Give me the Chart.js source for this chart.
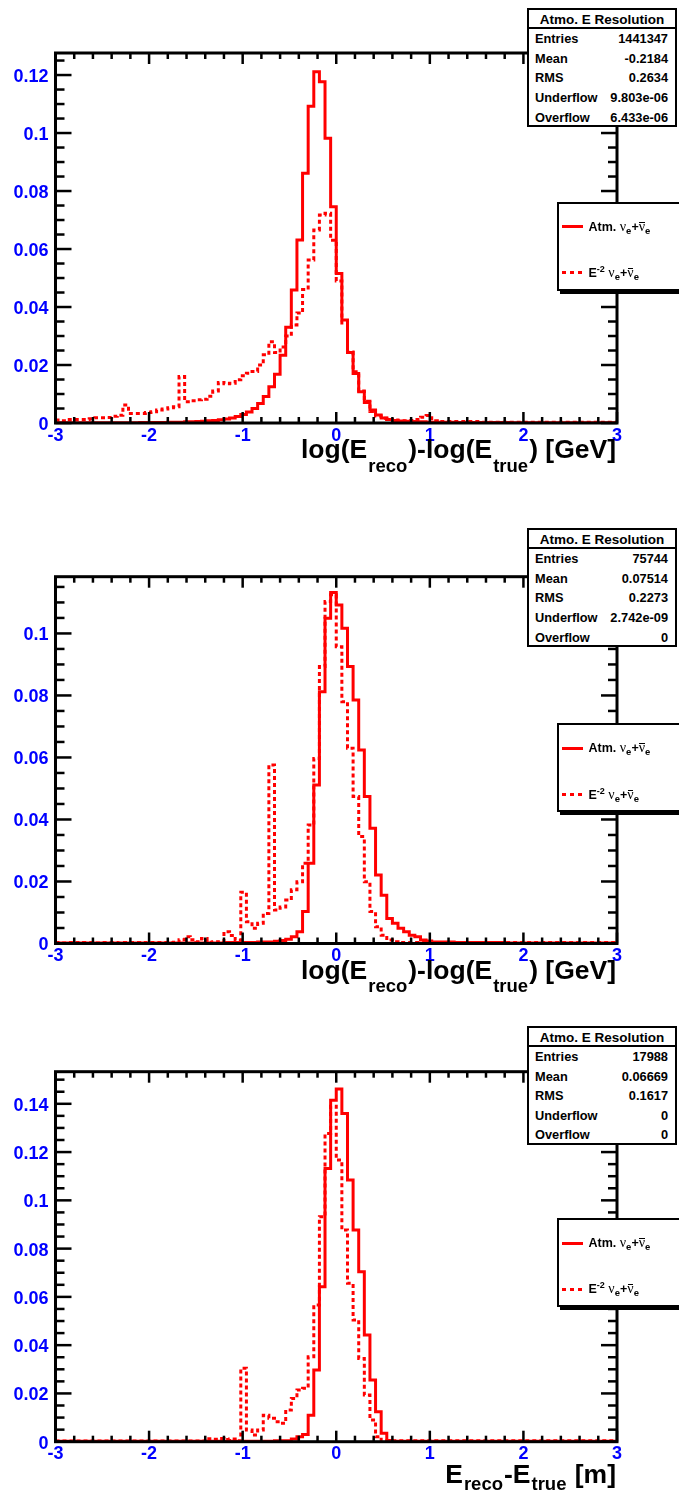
<!DOCTYPE html>
<html>
<head>
<meta charset="utf-8">
<script src="https://cdn.jsdelivr.net/npm/chart.js@4.4.1/dist/chart.umd.min.js"></script>
<style>
html,body{margin:0;padding:0;background:#fff;}
body{width:679px;height:1497px;position:relative;overflow:hidden;font-family:"Liberation Sans",Arial,Helvetica,sans-serif;}
canvas{position:absolute;left:0;z-index:1;}
.stats{position:absolute;left:527px;width:146px;height:114.5px;border:2px solid #000;background:#fff;z-index:3;color:#000;}
.st-title{position:absolute;left:0;right:0;top:1.5px;height:16px;line-height:16px;text-align:center;font-weight:bold;font-size:13.5px;white-space:nowrap;}
.st-sep{position:absolute;left:0;right:0;top:16.7px;height:2px;background:#000;}
.st-row{position:absolute;left:6px;right:7px;height:16px;line-height:16px;font-weight:bold;font-size:12.8px;display:flex;justify-content:space-between;white-space:nowrap;}
.leg{position:absolute;left:557px;width:140px;height:85px;border:2px solid #000;background:#fff;box-shadow:3px 3px 0 #000;z-index:3;}
.leg-line{position:absolute;left:3px;width:21px;height:3px;background:#ff0000;}
.leg-dot{position:absolute;left:3px;width:21px;height:3px;background:repeating-linear-gradient(to right,#ff0000 0 4.5px,transparent 4.5px 8px);}
.leg-txt{position:absolute;left:29.5px;height:18px;line-height:18px;white-space:nowrap;font-weight:bold;font-size:12.5px;color:#000;}
.nu{font-family:"Liberation Serif","DejaVu Serif",serif;font-weight:normal;font-size:14px;}
.bar{position:relative;display:inline-block;}
.bar::after{content:"";position:absolute;left:0.5px;right:0.5px;top:4px;height:1.2px;background:#000;}
.sb{font-weight:bold;font-size:9.5px;position:relative;top:3px;}
.sp{font-weight:bold;font-size:9px;position:relative;top:-5px;}
.xt{position:absolute;right:63px;height:26px;line-height:26px;white-space:nowrap;font-weight:bold;font-size:26.5px;color:#000;z-index:2;}
.xt .sub{font-size:18.5px;position:relative;margin:0 1px;}
</style>
</head>
<body>
<canvas id="c1" width="679" height="500" style="top:0px"></canvas>
<canvas id="c2" width="679" height="500" style="top:500px"></canvas>
<canvas id="c3" width="679" height="497" style="top:1000px"></canvas>
<script>
// ---------------- data ----------------
const N_BINS = 100, X_MIN = -3, X_MAX = 3;
const binEdges = Array.from({length: N_BINS + 1}, (_, i) => +(X_MIN + i * (X_MAX - X_MIN) / N_BINS).toFixed(2));

const xTickValues = [-3, -2, -1, 0, 1, 2, 3];
const xTickLabels = ["-3", "-2", "-1", "0", "1", "2", "3"];
const yTickValues1 = [0, 0.02, 0.04, 0.06, 0.08, 0.1, 0.12];
const yTickLabels1 = ["0", "0.02", "0.04", "0.06", "0.08", "0.1", "0.12"];
const yTickValues2 = [0, 0.02, 0.04, 0.06, 0.08, 0.1];
const yTickLabels2 = ["0", "0.02", "0.04", "0.06", "0.08", "0.1"];
const yTickValues3 = [0, 0.02, 0.04, 0.06, 0.08, 0.1, 0.12, 0.14];
const yTickLabels3 = ["0", "0.02", "0.04", "0.06", "0.08", "0.1", "0.12", "0.14"];

const seriesNames = ["Atm. \u03bde+\u03bd\u0304e", "E-2 \u03bde+\u03bd\u0304e"];

// Panel 1: log(Ereco)-log(Etrue)
const atmSolid1 = [
 0.0001,0.0001,0.0001,0.0001,0.0001,0.0001,0.0001,0.0001,0.0001,0.0001,
 0.0001,0.0001,0.0001,0.0001,0.0001,0.0002,0.0002,0.0002,0.0002,0.0002,
 0.0003,0.0003,0.0003,0.0004,0.0004,0.0005,0.0006,0.0008,0.0009,0.0011,
 0.0014,0.0017,0.0022,0.0029,0.0038,0.0050,0.0067,0.0091,0.0125,0.0168,
 0.0234,0.0330,0.0459,0.0631,0.0861,0.1092,0.1211,0.1177,0.0982,0.0746,
 0.0516,0.0355,0.0243,0.0171,0.0108,0.0071,0.0045,0.0028,0.0017,0.0012,
 0.0009,0.0007,0.0006,0.0005,0.0004,0.0004,0.0003,0.0003,0.0003,0.0003,
 0.0003,0.0002,0.0002,0.0002,0.0002,0.0002,0.0002,0.0002,0.0002,0.0002,
 0.0002,0.0001,0.0001,0.0001,0.0001,0.0001,0.0001,0.0001,0.0001,0.0001,
 0.0001,0.0001,0.0001,0.0001,0.0001,0.0001,0.0001,0.0001,0.0001,0.0001];
const e2Dotted1 = [
 0.0010,0.0008,0.0012,0.0012,0.0012,0.0012,0.0015,0.0018,0.0018,0.0019,
 0.0023,0.0027,0.0062,0.0033,0.0033,0.0033,0.0036,0.0039,0.0045,0.0048,
 0.0053,0.0056,0.0160,0.0073,0.0077,0.0080,0.0082,0.0092,0.0110,0.0140,
 0.0135,0.0137,0.0149,0.0163,0.0172,0.0178,0.0200,0.0235,0.0280,0.0243,
 0.0262,0.0300,0.0338,0.0379,0.0460,0.0562,0.0666,0.0717,0.0723,0.0630,
 0.0490,0.0345,0.0245,0.0177,0.0110,0.0075,0.0040,0.0024,0.0016,0.0012,
 0.0010,0.0008,0.0008,0.0009,0.0012,0.0020,0.0026,0.0008,0.0005,0.0005,
 0.0005,0.0005,0.0005,0.0005,0.0005,0.0005,0.0003,0.0003,0.0003,0.0003,
 0.0003,0.0003,0.0003,0.0003,0.0003,0.0003,0.0003,0.0003,0.0003,0.0003,
 0.0003,0.0003,0.0003,0.0003,0.0003,0.0003,0.0003,0.0003,0.0003,0.0003];

// Panel 2: log(Ereco)-log(Etrue)
const atmSolid2 = [
 0.0002,0.0002,0.0002,0.0002,0.0002,0.0002,0.0002,0.0002,0.0002,0.0002,
 0.0002,0.0002,0.0002,0.0002,0.0002,0.0002,0.0002,0.0002,0.0002,0.0002,
 0.0002,0.0002,0.0002,0.0002,0.0002,0.0002,0.0002,0.0002,0.0002,0.0002,
 0.0003,0.0003,0.0003,0.0003,0.0003,0.0003,0.0005,0.0005,0.0005,0.0007,
 0.0010,0.0014,0.0022,0.0038,0.0103,0.0259,0.0511,0.0812,0.1049,0.1132,
 0.1092,0.1017,0.0893,0.0785,0.0624,0.0474,0.0372,0.0221,0.0156,0.0081,
 0.0065,0.0049,0.0038,0.0027,0.0022,0.0011,0.0008,0.0005,0.0005,0.0005,
 0.0005,0.0003,0.0003,0.0003,0.0003,0.0003,0.0003,0.0003,0.0003,0.0003,
 0.0002,0.0002,0.0002,0.0002,0.0002,0.0002,0.0002,0.0002,0.0002,0.0002,
 0.0002,0.0002,0.0002,0.0002,0.0002,0.0002,0.0002,0.0002,0.0002,0.0002];
const e2Dotted2 = [
 0.0003,0.0002,0.0003,0.0003,0.0002,0.0003,0.0003,0.0002,0.0003,0.0003,
 0.0003,0.0002,0.0003,0.0003,0.0003,0.0002,0.0003,0.0003,0.0003,0.0003,
 0.0003,0.0004,0.0012,0.0022,0.0012,0.0006,0.0016,0.0004,0.0006,0.0005,
 0.0038,0.0026,0.0010,0.0165,0.0070,0.0049,0.0065,0.0097,0.0576,0.0108,
 0.0118,0.0140,0.0173,0.0199,0.0259,0.0382,0.0597,0.0893,0.1103,0.1125,
 0.0957,0.0780,0.0630,0.0474,0.0345,0.0199,0.0103,0.0054,0.0027,0.0011,
 0.0006,0.0003,0.0003,0.0003,0.0003,0.0003,0.0003,0.0003,0.0003,0.0003,
 0.0003,0.0003,0.0003,0.0003,0.0003,0.0003,0.0003,0.0003,0.0003,0.0003,
 0.0003,0.0003,0.0003,0.0003,0.0003,0.0003,0.0003,0.0003,0.0003,0.0003,
 0.0003,0.0003,0.0003,0.0003,0.0003,0.0003,0.0003,0.0003,0.0003,0.0003];

// Panel 3: Ereco-Etrue
const atmSolid3 = [
 0.0002,0.0002,0.0002,0.0002,0.0002,0.0002,0.0002,0.0002,0.0002,0.0002,
 0.0002,0.0002,0.0002,0.0002,0.0002,0.0002,0.0002,0.0002,0.0002,0.0002,
 0.0002,0.0002,0.0002,0.0002,0.0002,0.0002,0.0002,0.0002,0.0002,0.0002,
 0.0002,0.0002,0.0002,0.0002,0.0002,0.0002,0.0002,0.0002,0.0002,0.0004,
 0.0004,0.0004,0.0011,0.0020,0.0030,0.0110,0.0297,0.0642,0.1132,0.1415,
 0.1461,0.1360,0.1084,0.0877,0.0704,0.0442,0.0256,0.0124,0.0035,0.0005,
 0.0002,0.0002,0.0002,0.0002,0.0002,0.0002,0.0002,0.0002,0.0002,0.0002,
 0.0002,0.0002,0.0002,0.0002,0.0002,0.0002,0.0002,0.0002,0.0002,0.0002,
 0.0002,0.0002,0.0002,0.0002,0.0002,0.0002,0.0002,0.0002,0.0002,0.0002,
 0.0002,0.0002,0.0002,0.0002,0.0002,0.0002,0.0002,0.0002,0.0002,0.0002];
const e2Dotted3 = [
 0.0003,0.0003,0.0003,0.0003,0.0003,0.0003,0.0003,0.0003,0.0003,0.0003,
 0.0003,0.0003,0.0003,0.0003,0.0003,0.0003,0.0003,0.0003,0.0003,0.0003,
 0.0003,0.0003,0.0003,0.0003,0.0003,0.0003,0.0003,0.0012,0.0010,0.0013,
 0.0009,0.0011,0.0004,0.0304,0.0048,0.0028,0.0048,0.0110,0.0097,0.0083,
 0.0076,0.0131,0.0179,0.0214,0.0221,0.0352,0.0566,0.0932,0.1277,0.1390,
 0.1167,0.0877,0.0656,0.0504,0.0345,0.0193,0.0090,0.0021,0.0004,0.0004,
 0.0004,0.0004,0.0004,0.0004,0.0004,0.0004,0.0004,0.0004,0.0004,0.0004,
 0.0004,0.0004,0.0004,0.0004,0.0004,0.0004,0.0004,0.0004,0.0004,0.0004,
 0.0004,0.0004,0.0004,0.0004,0.0004,0.0004,0.0004,0.0004,0.0004,0.0004,
 0.0004,0.0004,0.0004,0.0004,0.0004,0.0004,0.0004,0.0004,0.0004,0.0004];

const statsTitle = "Atmo. E Resolution";
const statsNames = ["Entries", "Mean", "RMS", "Underflow", "Overflow"];
const statsValues1 = ["1441347", "-0.2184", "0.2634", "9.803e-06", "6.433e-06"];
const statsValues2 = ["75744", "0.07514", "0.2273", "2.742e-09", "0"];
const statsValues3 = ["17988", "0.06669", "0.1617", "0", "0"];

const xTitleLog = [["log(E", ""], ["reco", "sub"], [")-log(E", ""], ["true", "sub"], [") [GeV]", ""]];
const xTitleLin = [["E", ""], ["reco", "sub"], ["-E", ""], ["true", "sub"], [" [m]", ""]];

// ---------------- layout / style ----------------
const RED = "#ff0000", BLUE = "#0000ff";
const FRAME_LEFT = 55.5, FRAME_RIGHT = 617, X_AXIS_H = 40;
const STATS_ROW_C = [29, 48.6, 68.2, 87.8, 107.4];

const panels = [
  {canvas: "c1", canvasTop: 0, canvasH: 500, frameTop: 53, frameBottom: 423, yMax: 0.1276,
   solid: atmSolid1, dotted: e2Dotted1, yV: yTickValues1, yL: yTickLabels1, stats: statsValues1,
   statsTop: 8.3, legendTop: 201.7, title: xTitleLog, titleBase: 458.3, subDrop: 13.5},
  {canvas: "c2", canvasTop: 500, canvasH: 500, frameTop: 76.7, frameBottom: 443.5, yMax: 0.1183,
   solid: atmSolid2, dotted: e2Dotted2, yV: yTickValues2, yL: yTickLabels2, stats: statsValues2,
   statsTop: 528.3, legendTop: 723.3, title: xTitleLog, titleBase: 978.8, subDrop: 13.5},
  {canvas: "c3", canvasTop: 1000, canvasH: 497, frameTop: 71.7, frameBottom: 441.7, yMax: 0.1533,
   solid: atmSolid3, dotted: e2Dotted3, yV: yTickValues3, yL: yTickLabels3, stats: statsValues3,
   statsTop: 1026, legendTop: 1218, title: xTitleLin, titleBase: 1483.3, subDrop: 6.7}
];

// one point per bin low edge (plus the upper edge), drawn as a histogram step
function stepPoints(values) {
  return binEdges.map((x, i) => ({x: x, y: values[Math.min(i, values.length - 1)]}));
}
function lookupLabel(values, labels, v) {
  const i = values.findIndex(t => Math.abs(t - v) < 1e-6);
  return i >= 0 ? labels[i] : "";
}

const rootFrame = {
  id: "rootFrame",
  afterDraw(chart) {
    const {ctx, chartArea: a, scales} = chart;
    const xs = scales.x, ys = scales.y;
    ctx.save();
    ctx.strokeStyle = "#000";
    ctx.lineCap = "butt";
    const seg = (x1, y1, x2, y2, w) => { ctx.lineWidth = w; ctx.beginPath(); ctx.moveTo(x1, y1); ctx.lineTo(x2, y2); ctx.stroke(); };
    for (let k = 0; k <= 30; k++) {
      const v = X_MIN + k * 0.2;
      const px = xs.getPixelForValue(v);
      const major = k % 5 === 0;
      const L = major ? 11 : 6;
      seg(px, a.bottom, px, a.bottom - L, 2.5);
      seg(px, a.top, px, a.top + L, 2.5);
    }
    for (let k = 0; k * 0.005 <= ys.max + 1e-9; k++) {
      const py = ys.getPixelForValue(k * 0.005);
      const major = k % 4 === 0;
      const L = major ? 16 : 9;
      seg(a.left, py, a.left + L, py, 2.5);
      seg(a.right, py, a.right - L, py, 2.5);
    }
    ctx.lineWidth = 3;
    ctx.strokeRect(a.left, a.top, a.right - a.left, a.bottom - a.top);
    ctx.restore();
  }
};

const tickFont = {family: "'Liberation Sans', Arial, sans-serif", size: 18, weight: "bold"};

panels.forEach(p => {
  const cv = document.getElementById(p.canvas);
  new Chart(cv.getContext("2d"), {
    type: "line",
    data: {
      datasets: [
        {label: seriesNames[1], data: stepPoints(p.dotted), borderColor: RED, borderWidth: 3,
         borderDash: [4, 3], stepped: "before", pointRadius: 0, fill: false},
        {label: seriesNames[0], data: stepPoints(p.solid), borderColor: RED, borderWidth: 3,
         stepped: "before", pointRadius: 0, fill: false}
      ]
    },
    options: {
      responsive: false, animation: false, devicePixelRatio: 1, events: [],
      layout: {padding: {left: 0, right: 679 - FRAME_RIGHT, top: p.frameTop, bottom: p.canvasH - p.frameBottom - X_AXIS_H}},
      plugins: {legend: {display: false}, tooltip: {enabled: false}, title: {display: false}},
      scales: {
        x: {type: "linear", position: "bottom", min: X_MIN, max: X_MAX,
            afterFit: s => { s.height = X_AXIS_H; },
            grid: {display: false, drawTicks: false}, border: {display: false},
            ticks: {stepSize: 1, includeBounds: false, autoSkip: false, maxRotation: 0, minRotation: 0,
                    padding: 2, color: BLUE, font: tickFont,
                    callback: v => lookupLabel(xTickValues, xTickLabels, v)}},
        y: {type: "linear", position: "left", min: 0, max: p.yMax,
            afterFit: s => { s.width = FRAME_LEFT; },
            grid: {display: false, drawTicks: false}, border: {display: false},
            ticks: {stepSize: 0.02, includeBounds: false, autoSkip: false, padding: 7, labelOffset: 2,
                    color: BLUE, font: tickFont,
                    callback: v => lookupLabel(p.yV, p.yL, v)}}
      }
    },
    plugins: [rootFrame]
  });

  // statistics box
  const box = document.createElement("div");
  box.className = "stats";
  box.style.top = p.statsTop + "px";
  let html = '<div class="st-title">' + statsTitle + '</div><div class="st-sep"></div>';
  statsNames.forEach((n, i) => {
    html += '<div class="st-row" style="top:' + (STATS_ROW_C[i] - 8) + 'px"><span>' + n + '</span><span>' + p.stats[i] + '</span></div>';
  });
  box.innerHTML = html;
  document.body.appendChild(box);

  // legend
  const leg = document.createElement("div");
  leg.className = "leg";
  leg.style.top = p.legendTop + "px";
  const nuPart = '<span class="nu">\u03bd</span><span class="sb">e</span>+<span class="nu bar">\u03bd</span><span class="sb">e</span>';
  leg.innerHTML =
    '<div class="leg-line" style="top:' + (23 - 1.5) + 'px"></div>' +
    '<div class="leg-txt" style="top:' + (23 - 9) + 'px">Atm. ' + nuPart + '</div>' +
    '<div class="leg-dot" style="top:' + (69.3 - 1.5) + 'px"></div>' +
    '<div class="leg-txt" style="top:' + (69.3 - 9) + 'px">E<span class="sp">-2</span> ' + nuPart + '</div>';
  document.body.appendChild(leg);

  // x axis title
  const t = document.createElement("div");
  t.className = "xt";
  t.style.top = (p.titleBase - 22) + "px";
  t.innerHTML = p.title.map(([s, k]) => k === "sub"
    ? '<span class="sub" style="top:' + p.subDrop + 'px">' + s + '</span>'
    : '<span>' + s + '</span>').join("");
  document.body.appendChild(t);
});
</script>
</body>
</html>
